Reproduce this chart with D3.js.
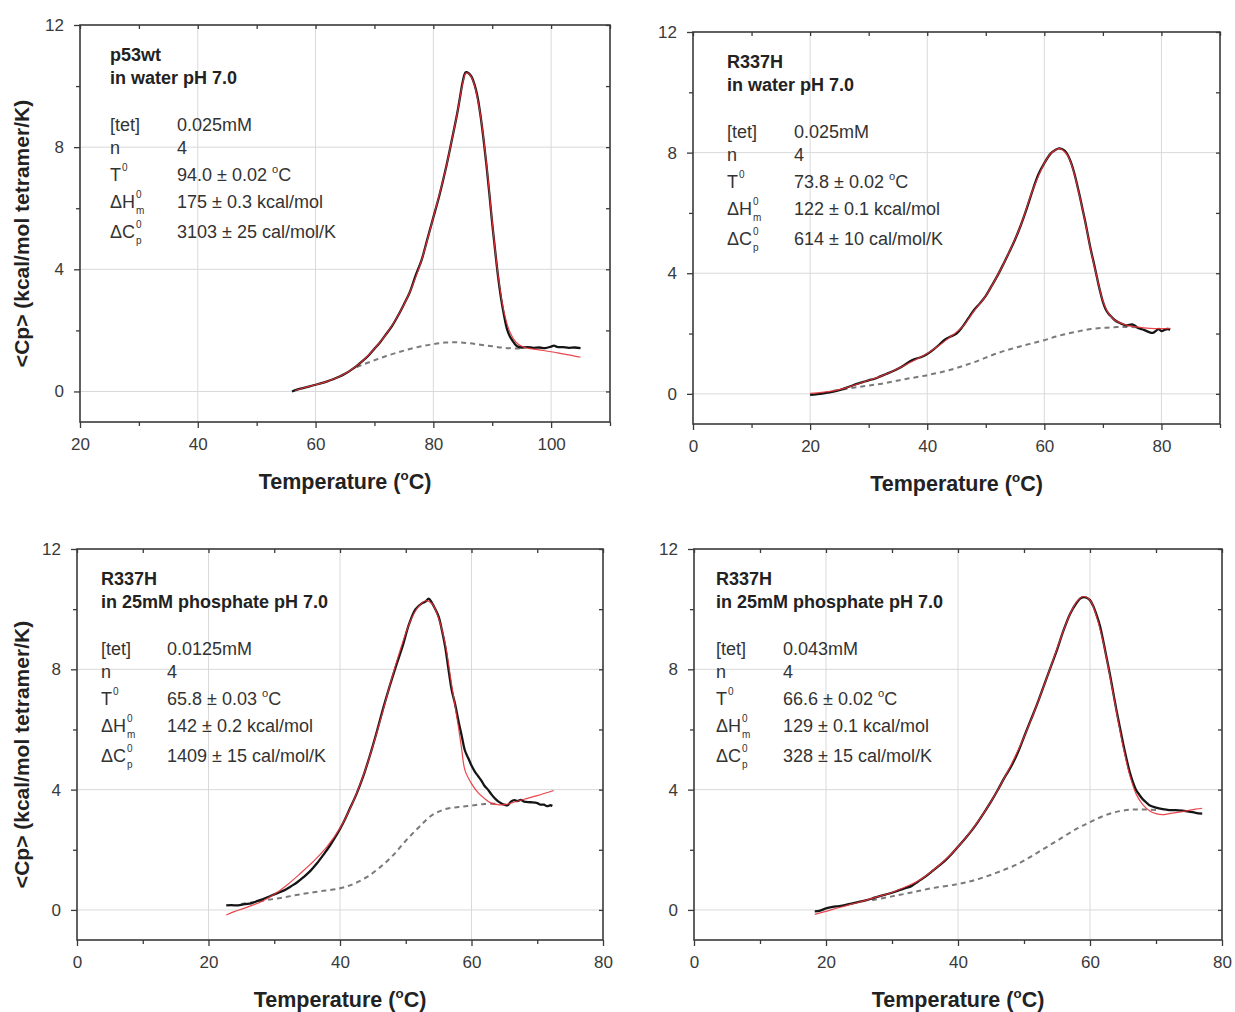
<!DOCTYPE html>
<html><head><meta charset="utf-8">
<script src="https://cdn.jsdelivr.net/npm/d3@7"></script>
<style>
body{margin:0;background:#fff}
text{font-family:"Liberation Sans",Arial,Helvetica,sans-serif}
</style>
</head><body>
<svg id="c" width="1235" height="1012"></svg>
<script>
// ---------------- DATA ----------------
// Panel 1: p53wt in water
const p1Data = [[56,0.00],[57,0.07],[58,0.12],[59,0.17],[60,0.22],[61,0.27],[62,0.33],[63,0.40],[64,0.48],[65,0.58],[66,0.70],[67,0.84],[68,1.00],[69,1.18],[70,1.40],[71,1.62],[72,1.88],[73,2.15],[74,2.48],[75,2.85],[76,3.25],[77,3.80],[78,4.30],[79,5.00],[80,5.70],[81,6.40],[82,7.20],[83,8.10],[84,9.05],[84.5,9.60],[85,10.15],[85.5,10.45],[86,10.42],[86.5,10.30],[87,10.05],[87.5,9.65],[88,9.05],[88.5,8.30],[89,7.45],[89.5,6.50],[90,5.50],[90.5,4.60],[91,3.75],[91.5,3.05],[92,2.50],[92.5,2.05],[93,1.80],[93.5,1.65],[94,1.52],[94.5,1.46],[95,1.44],[96,1.45],[97,1.43],[98,1.44],[99,1.42],[100,1.47],[100.5,1.50],[101,1.46],[102,1.45],[103,1.43],[104,1.44],[105,1.42]];
const p1Fit = [[56.5,0.03],[58,0.12],[60,0.22],[62,0.33],[64,0.48],[66,0.70],[68,1.00],[70,1.40],[72,1.88],[74,2.48],[76,3.25],[78,4.30],[80,5.70],[82,7.20],[83,8.10],[84,9.05],[85,10.10],[85.5,10.42],[86,10.42],[86.5,10.28],[87,10.02],[88,9.05],[89,7.50],[90,5.55],[91,3.80],[92,2.60],[93,1.95],[94,1.62],[95,1.48],[96,1.42],[98,1.36],[100,1.30],[102,1.23],[104,1.16],[105,1.12]];
const p1Base = [[67,0.80],[68,0.88],[70,1.02],[72,1.16],[74,1.28],[76,1.39],[78,1.48],[80,1.55],[82,1.60],[84,1.61],[86,1.58],[88,1.53],[90,1.48],[92,1.43],[94,1.41],[95,1.42]];

// Panel 2: R337H in water
const p2Data = [[20,-0.03],[21,-0.02],[22,0.01],[23,0.04],[24,0.07],[25,0.12],[26,0.19],[27,0.26],[28,0.33],[29,0.39],[30,0.45],[31,0.50],[32,0.58],[33,0.66],[34,0.74],[35,0.83],[36,0.94],[37,1.07],[38,1.16],[39,1.22],[40,1.32],[41,1.46],[42,1.62],[43,1.80],[44,1.90],[45,2.00],[46,2.22],[47,2.50],[48,2.78],[49,3.00],[50,3.25],[51,3.58],[52,3.92],[53,4.30],[54,4.70],[55,5.12],[56,5.60],[57,6.15],[58,6.75],[59,7.28],[60,7.65],[61,7.95],[62,8.10],[62.5,8.14],[63,8.12],[63.5,8.06],[64,7.92],[64.5,7.70],[65,7.40],[65.5,7.02],[66,6.60],[66.5,6.15],[67,5.70],[67.5,5.20],[68,4.72],[68.5,4.30],[69,3.85],[69.5,3.42],[70,3.05],[70.5,2.80],[71,2.65],[71.5,2.55],[72,2.45],[73,2.34],[74,2.27],[75,2.30],[75.5,2.26],[76,2.18],[77,2.12],[78,2.04],[78.5,2.02],[79,2.08],[79.5,2.15],[80,2.08],[80.5,2.12],[81,2.15],[81.5,2.13]];
const p2Fit = [[20,0.02],[22,0.05],[24,0.10],[26,0.19],[28,0.32],[30,0.45],[32,0.58],[34,0.74],[36,0.93],[38,1.13],[40,1.34],[42,1.60],[44,1.90],[46,2.22],[48,2.75],[50,3.25],[52,3.92],[54,4.70],[56,5.60],[58,6.75],[60,7.65],[61,7.95],[62,8.10],[62.5,8.13],[63,8.10],[64,7.90],[65,7.38],[66,6.58],[67,5.68],[68,4.70],[69,3.85],[70,3.08],[71,2.66],[72,2.45],[74,2.28],[76,2.21],[78,2.17],[80,2.16],[81.5,2.17]];
const p2Base = [[24,0.10],[28,0.22],[32,0.33],[36,0.48],[40,0.62],[44,0.80],[48,1.05],[52,1.35],[56,1.58],[60,1.78],[62,1.90],[64,2.00],[66,2.08],[68,2.15],[70,2.19],[72,2.21],[74,2.22],[76,2.21]];

// Panel 3: R337H in 25mM phosphate, 0.0125mM
const p3Data = [[22.7,0.15],[23.5,0.16],[24.5,0.15],[25.5,0.19],[26.5,0.22],[27.5,0.30],[28.5,0.38],[29.5,0.47],[30.5,0.56],[31.5,0.65],[32.5,0.78],[33.5,0.92],[34.5,1.10],[35.5,1.30],[36.5,1.55],[37.5,1.84],[38.5,2.15],[39.5,2.50],[40.5,2.90],[41.5,3.37],[42.5,3.85],[43.5,4.42],[44.5,5.10],[45.5,5.85],[46.5,6.65],[47.5,7.40],[48.5,8.10],[49.5,8.75],[50.5,9.50],[51.5,10.00],[52.5,10.20],[53,10.25],[53.5,10.35],[54,10.20],[54.5,10.00],[55,9.75],[55.5,9.30],[56,8.75],[56.5,8.00],[57,7.30],[57.5,6.85],[58,6.30],[58.5,5.80],[59,5.30],[59.5,5.05],[60,4.80],[60.5,4.60],[61,4.45],[61.5,4.30],[62,4.12],[62.5,4.00],[63,3.85],[63.5,3.72],[64,3.62],[64.5,3.55],[65,3.50],[65.5,3.48],[66,3.60],[66.5,3.65],[67,3.62],[67.5,3.66],[68,3.60],[69,3.58],[70,3.55],[70.5,3.50],[71,3.50],[71.5,3.45],[72,3.48],[72.3,3.46]];
const p3Fit = [[22.7,-0.17],[24,-0.05],[26,0.10],[28,0.27],[30,0.52],[32,0.84],[34,1.22],[36,1.62],[38,2.10],[40,2.72],[42,3.60],[44,4.75],[46,6.20],[48,7.80],[50,9.20],[51,9.75],[52,10.10],[53,10.28],[54,10.18],[55,9.70],[56,8.85],[57,7.45],[58,6.10],[58.5,5.35],[59,4.65],[60,4.20],[61,3.90],[62,3.70],[63,3.55],[64,3.50],[65,3.50],[66,3.55],[68,3.68],[70,3.80],[72.5,3.97]];
const p3Base = [[25,0.20],[28,0.30],[31,0.40],[34,0.52],[37,0.62],[40,0.72],[42,0.86],[44,1.08],[46,1.40],[48,1.80],[50,2.30],[52,2.75],[54,3.15],[56,3.35],[58,3.42],[60,3.47],[62,3.52],[64,3.53]];

// Panel 4: R337H in 25mM phosphate, 0.043mM
const p4Data = [[18.3,-0.05],[19,-0.03],[20,0.05],[21,0.10],[22,0.13],[23,0.17],[24,0.22],[25,0.27],[26,0.32],[27,0.38],[28,0.45],[29,0.51],[30,0.57],[31,0.65],[32,0.72],[33,0.80],[34,0.95],[35,1.10],[36,1.27],[37,1.45],[38,1.63],[39,1.85],[40,2.10],[41,2.35],[42,2.62],[43,2.92],[44,3.25],[45,3.60],[46,3.98],[47,4.38],[48,4.75],[49,5.20],[50,5.75],[51,6.30],[52,6.85],[53,7.45],[54,8.05],[55,8.65],[56,9.30],[57,9.85],[58,10.22],[58.5,10.35],[59,10.40],[59.5,10.38],[60,10.30],[60.5,10.10],[61,9.80],[61.5,9.45],[62,8.95],[62.5,8.40],[63,7.85],[63.5,7.25],[64,6.65],[64.5,6.10],[65,5.55],[65.5,5.05],[66,4.60],[66.5,4.25],[67,3.98],[67.5,3.82],[68,3.68],[68.5,3.58],[69,3.48],[70,3.40],[71,3.35],[72,3.32],[73,3.32],[74,3.30],[75,3.27],[76,3.23],[77,3.20]];
const p4Fit = [[18.3,-0.15],[20,-0.05],[22,0.08],[24,0.20],[26,0.32],[28,0.45],[30,0.58],[32,0.76],[34,0.97],[36,1.28],[38,1.65],[40,2.10],[42,2.63],[44,3.25],[46,3.98],[48,4.80],[50,5.75],[52,6.85],[54,8.05],[56,9.30],[57,9.85],[58,10.25],[59,10.42],[60,10.30],[61,9.75],[62,8.90],[63,7.80],[64,6.60],[65,5.45],[66,4.50],[67,3.85],[68,3.50],[69,3.30],[70,3.20],[71,3.17],[72,3.20],[74,3.27],[76,3.35],[77,3.38]];
const p4Base = [[27,0.32],[30,0.45],[33,0.58],[36,0.72],[40,0.86],[43,1.02],[46,1.25],[49,1.52],[52,1.90],[55,2.30],[58,2.70],[60,2.92],[62,3.12],[64,3.26],[66,3.33],[68,3.34],[70,3.32]];

// Axis ticks
const xDomains = [[20,110],[0,90],[0,80],[0,80]];
const xMajorTicks = [[20,40,60,80,100],[0,20,40,60,80],[0,20,40,60,80],[0,20,40,60,80]];
const xMinorTicks = [[30,50,70,90,110],[10,30,50,70,90],[10,30,50,70],[10,30,50,70]];
const yDomain = [-1,12];
const yMajorTicks = [0,4,8,12];
const yMinorTicks = [2,6,10];

// Texts
const panelTitles = [["p53wt","in water pH 7.0"],["R337H","in water pH 7.0"],["R337H","in 25mM phosphate pH 7.0"],["R337H","in 25mM phosphate pH 7.0"]];
const paramNames = [{m:"[tet]"},{m:"n"},{m:"T",sup:"0"},{m:"\u0394H",sup:"0",sub:"m"},{m:"\u0394C",sup:"0",sub:"p"}];
const paramValues = [
  ["0.025mM","4","94.0 \u00b1 0.02 \u00b0C","175 \u00b1 0.3 kcal/mol","3103 \u00b1 25 cal/mol/K"],
  ["0.025mM","4","73.8 \u00b1 0.02 \u00b0C","122 \u00b1 0.1 kcal/mol","614 \u00b1 10 cal/mol/K"],
  ["0.0125mM","4","65.8 \u00b1 0.03 \u00b0C","142 \u00b1 0.2 kcal/mol","1409 \u00b1 15 cal/mol/K"],
  ["0.043mM","4","66.6 \u00b1 0.02 \u00b0C","129 \u00b1 0.1 kcal/mol","328 \u00b1 15 cal/mol/K"]
];
const xAxisTitle = "Temperature (\u00b0C)";
const yAxisTitle = "<Cp> (kcal/mol tetramer/K)";

// ---------------- LAYOUT ----------------
const boxes = [
  {l:80, t:25, r:610, b:422, tx:30, vx:97, yTitle:true},
  {l:693, t:32, r:1220, b:424, tx:34, vx:101, yTitle:false},
  {l:77, t:549, r:603, b:940, tx:24, vx:90, yTitle:true},
  {l:694, t:549, r:1222, b:940, tx:22, vx:89, yTitle:false}
];
const rowOffsets = [30, 53, 100, 123, 150, 177, 207];
const datasets = [[p1Data,p1Fit,p1Base],[p2Data,p2Fit,p2Base],[p3Data,p3Fit,p3Base],[p4Data,p4Fit,p4Base]];

const svg = d3.select("#c");

function degText(sel, str, fs){
  const parts = str.split("\u00b0");
  sel.append("tspan").text(parts[0]);
  if(parts.length>1){
    sel.append("tspan").attr("font-size", fs*0.62).attr("dy", -fs*0.42).text("o");
    sel.append("tspan").attr("dy", fs*0.42).text(parts[1]);
  }
}

boxes.forEach((b,i)=>{
  const x = d3.scaleLinear().domain(xDomains[i]).range([b.l,b.r]);
  const y = d3.scaleLinear().domain(yDomain).range([b.b,b.t]);
  const g = svg.append("g");

  // grid
  g.append("g").selectAll("line").data(xMajorTicks[i].filter(v=>v>xDomains[i][0]&&v<xDomains[i][1])).join("line")
    .attr("x1",d=>x(d)).attr("x2",d=>x(d)).attr("y1",b.t).attr("y2",b.b)
    .attr("stroke","#d9d9d9").attr("stroke-width",1);
  g.append("g").selectAll("line").data(yMajorTicks.filter(v=>v>yDomain[0]&&v<yDomain[1])).join("line")
    .attr("x1",b.l).attr("x2",b.r).attr("y1",d=>y(d)).attr("y2",d=>y(d))
    .attr("stroke","#d9d9d9").attr("stroke-width",1);

  // axes
  const styleAxis = a => {
    a.select(".domain").remove();
    a.selectAll("line").attr("stroke","#3a3a3a").attr("stroke-width",1.3);
    a.selectAll("text").attr("fill","#3a3a3a").attr("font-size",17)
      .attr("font-family","'Liberation Sans',Arial,sans-serif");
  };
  g.append("g").attr("transform",`translate(0,${b.b})`)
    .call(d3.axisBottom(x).tickValues(xMajorTicks[i]).tickSize(6).tickPadding(10).tickFormat(d3.format("d"))).call(styleAxis);
  g.append("g").attr("transform",`translate(0,${b.b})`)
    .call(d3.axisBottom(x).tickValues(xMinorTicks[i]).tickSize(4).tickFormat("")).call(styleAxis);
  g.append("g").attr("transform",`translate(${b.l},0)`)
    .call(d3.axisLeft(y).tickValues(yMajorTicks).tickSize(6).tickPadding(10).tickFormat(d3.format("d"))).call(styleAxis);
  g.append("g").attr("transform",`translate(${b.l},0)`)
    .call(d3.axisLeft(y).tickValues(yMinorTicks).tickSize(4).tickFormat("")).call(styleAxis);
  g.append("g").attr("transform",`translate(0,${b.t})`)
    .call(d3.axisTop(x).tickValues(xMajorTicks[i].concat(xMinorTicks[i])).tickSize(-4).tickFormat("")).call(styleAxis);
  g.append("g").attr("transform",`translate(${b.r},0)`)
    .call(d3.axisRight(y).tickValues(yMajorTicks.concat(yMinorTicks)).tickSize(-4).tickFormat("")).call(styleAxis);

  // frame
  g.append("rect").attr("x",b.l).attr("y",b.t).attr("width",b.r-b.l).attr("height",b.b-b.t)
    .attr("fill","none").attr("stroke","#3a3a3a").attr("stroke-width",1.6);

  // curves
  const [dat, fit, base] = datasets[i];
  const line = d3.line().x(d=>x(d[0])).y(d=>y(d[1])).curve(d3.curveCatmullRom.alpha(0.5));
  g.append("path").datum(base).attr("d",line).attr("fill","none")
    .attr("stroke","#7a7a7a").attr("stroke-width",2).attr("stroke-dasharray","5,4");
  g.append("path").datum(dat).attr("d",line).attr("fill","none")
    .attr("stroke","#151515").attr("stroke-width",2.3).attr("stroke-linejoin","round");
  g.append("path").datum(fit).attr("d",line).attr("fill","none")
    .attr("stroke","#e8323a").attr("stroke-width",1.2).attr("stroke-opacity",0.9);

  // annotation
  const ax = b.l + b.tx, vx = b.l + b.vx;
  const fs = 18;
  panelTitles[i].forEach((t,k)=>{
    g.append("text").attr("x",ax).attr("y",b.t+rowOffsets[k]+6).attr("font-size",fs)
      .attr("font-weight","bold").attr("fill","#222").text(t);
  });
  paramNames.forEach((p,k)=>{
    const yy = b.t + rowOffsets[k+2] + 6;
    const t = g.append("text").attr("x",ax).attr("y",yy).attr("font-size",fs).attr("fill","#333").text(p.m);
    const w = t.node().getComputedTextLength();
    if(p.sup) g.append("text").attr("x",ax+w+1).attr("y",yy-10).attr("font-size",10).attr("fill","#333").text(p.sup);
    if(p.sub) g.append("text").attr("x",ax+w+1).attr("y",yy+6).attr("font-size",10).attr("fill","#333").text(p.sub);
    const v = g.append("text").attr("x",vx).attr("y",yy).attr("font-size",fs).attr("fill","#333");
    degText(v, paramValues[i][k], fs);
  });

  // axis titles
  const xt = g.append("text").attr("x",(b.l+b.r)/2).attr("y",b.b+67).attr("text-anchor","middle")
    .attr("font-size",21.5).attr("font-weight","bold").attr("fill","#222");
  degText(xt, xAxisTitle, 21.5);
  if(b.yTitle){
    g.append("text").attr("transform",`translate(29,${(b.t+b.b)/2+10}) rotate(-90)`)
      .attr("text-anchor","middle").attr("font-size",21).attr("font-weight","bold").attr("fill","#222")
      .text(yAxisTitle);
  }
});
</script>
</body></html>
